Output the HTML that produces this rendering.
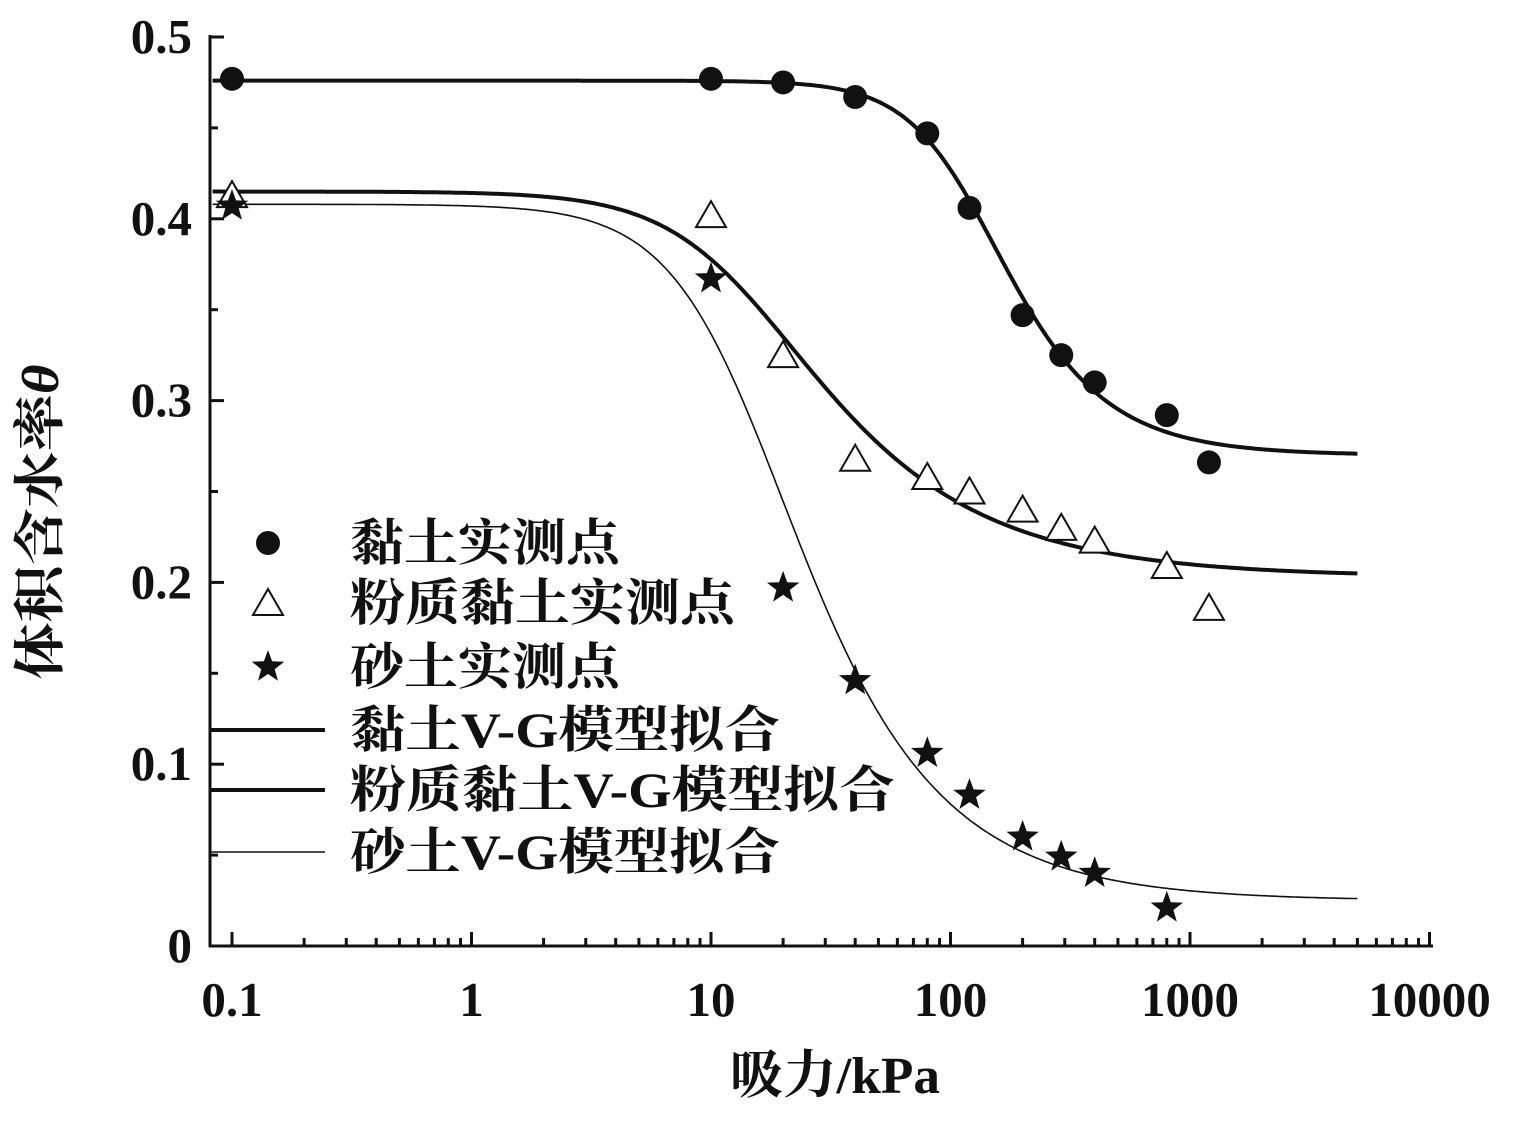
<!DOCTYPE html>
<html><head><meta charset="utf-8"><style>
body{margin:0;background:#fff;}
svg text{font-family:"Liberation Serif","Noto Serif CJK SC",serif;font-weight:bold;fill:#111;}
</style></head><body>
<svg id="s" width="1521" height="1117" viewBox="0 0 1521 1117" xmlns="http://www.w3.org/2000/svg"></svg>
<script>
const s=document.getElementById('s');
const X=v=>232+239.5*(Math.log10(v)+1);
const Y=t=>946-t*1818;
let h='';
h+='<line x1="210" y1="35" x2="210" y2="947" stroke="#111" stroke-width="3"/>';
h+='<line x1="209" y1="946" x2="1433" y2="946" stroke="#111" stroke-width="3"/>';
for(let i=0;i<=10;i++){const y=Y(i*0.05);const L=i%2==0?14:8;h+=`<line x1="210" y1="${y}" x2="${210+L}" y2="${y}" stroke="#111" stroke-width="3"/>`;}
for(let d=-1;d<=4;d++){for(let k=1;k<=9;k++){const v=k*Math.pow(10,d);if(v>10000)break;const x=X(v);const L=k==1?14:8;h+=`<line x1="${x}" y1="946" x2="${x}" y2="${946-L}" stroke="#111" stroke-width="3"/>`;}}
['0','0.1','0.2','0.3','0.4','0.5'].forEach((t,i)=>{h+=`<text x="192" y="${Y(i*0.1)+16}" font-size="49" text-anchor="end">${t}</text>`;});
['0.1','1','10','100','1000','10000'].forEach((t,i)=>{h+=`<text x="${X(0.1*Math.pow(10,i))}" y="1016" font-size="49" text-anchor="middle">${t}</text>`;});
h+=`<text x="835" y="1093" font-size="52" text-anchor="middle" textLength="210" lengthAdjust="spacingAndGlyphs">吸力/kPa</text>`;
h+=`<text transform="translate(58,522) rotate(-90)" font-size="52" text-anchor="middle" textLength="315" lengthAdjust="spacingAndGlyphs">体积含水率<tspan font-style="italic">θ</tspan></text>`;
function vg(ts,tr,a,n,w){const m=1-1/n;let p='';for(let i=0;i<=400;i++){const lh=Math.log10(0.083)+i*(Math.log10(5000)-Math.log10(0.083))/400;const hh=Math.pow(10,lh);const t=tr+(ts-tr)*Math.pow(1+Math.pow(a*hh,n),-m);p+=(i?'L':'M')+X(hh).toFixed(1)+' '+Y(t).toFixed(1);}return `<path d="${p}" fill="none" stroke="#111" stroke-width="${w}"/>`;}
h+=vg(0.476,0.27,1/125,2.5,4);
h+=vg(0.415,0.203,1/14,1.8,4);
h+=vg(0.408,0.025,1/14,2,1.6);
const circ=(x,y)=>`<circle cx="${x}" cy="${y}" r="12" fill="#111"/>`;
const tri=(x,y)=>`<path d="M${x} ${y-14}L${x+15} ${y+12}L${x-15} ${y+12}Z" fill="#fff" stroke="#111" stroke-width="2"/>`;
const star=(x,y)=>{let p='';for(let i=0;i<10;i++){const r=i%2?7:17;const a=-Math.PI/2+i*Math.PI/5;p+=(i?'L':'M')+(x+r*Math.cos(a)).toFixed(1)+' '+(y+r*Math.sin(a)).toFixed(1);}return `<path d="${p}Z" fill="#111"/>`;};
[[0.1,0.477],[10,0.477],[20,0.475],[40,0.467],[80,0.447],[120,0.406],[200,0.347],[290,0.325],[400,0.31],[800,0.292],[1200,0.266]].forEach(d=>h+=circ(X(d[0]),Y(d[1])));
[[0.1,0.413],[10,0.402],[20,0.325],[40,0.268],[80,0.258],[120,0.25],[200,0.24],[290,0.23],[400,0.223],[800,0.209],[1200,0.186]].forEach(d=>h+=tri(X(d[0]),Y(d[1])));
[[0.1,0.407],[10,0.367],[20,0.197],[40,0.146],[80,0.106],[120,0.083],[200,0.06],[290,0.049],[400,0.04],[800,0.021]].forEach(d=>h+=star(X(d[0]),Y(d[1])));
h+=circ(268,543)+tri(268,603)+star(268,667);
h+='<line x1="210" y1="730" x2="325" y2="730" stroke="#111" stroke-width="4"/>';
h+='<line x1="210" y1="790" x2="325" y2="790" stroke="#111" stroke-width="4"/>';
h+='<line x1="210" y1="852" x2="325" y2="852" stroke="#111" stroke-width="1.6"/>';
const L=[['黏土实测点',543,270],['粉质黏土实测点',603,385],['砂土实测点',667,270],['黏土V-G模型拟合',730,430],['粉质黏土V-G模型拟合',790,545],['砂土V-G模型拟合',852,430]];
L.forEach(([t,y,w])=>{h+=`<text x="350" y="${y+17}" font-size="50" textLength="${w}" lengthAdjust="spacingAndGlyphs">${t}</text>`;});
s.innerHTML=h;
</script>
</body></html>
